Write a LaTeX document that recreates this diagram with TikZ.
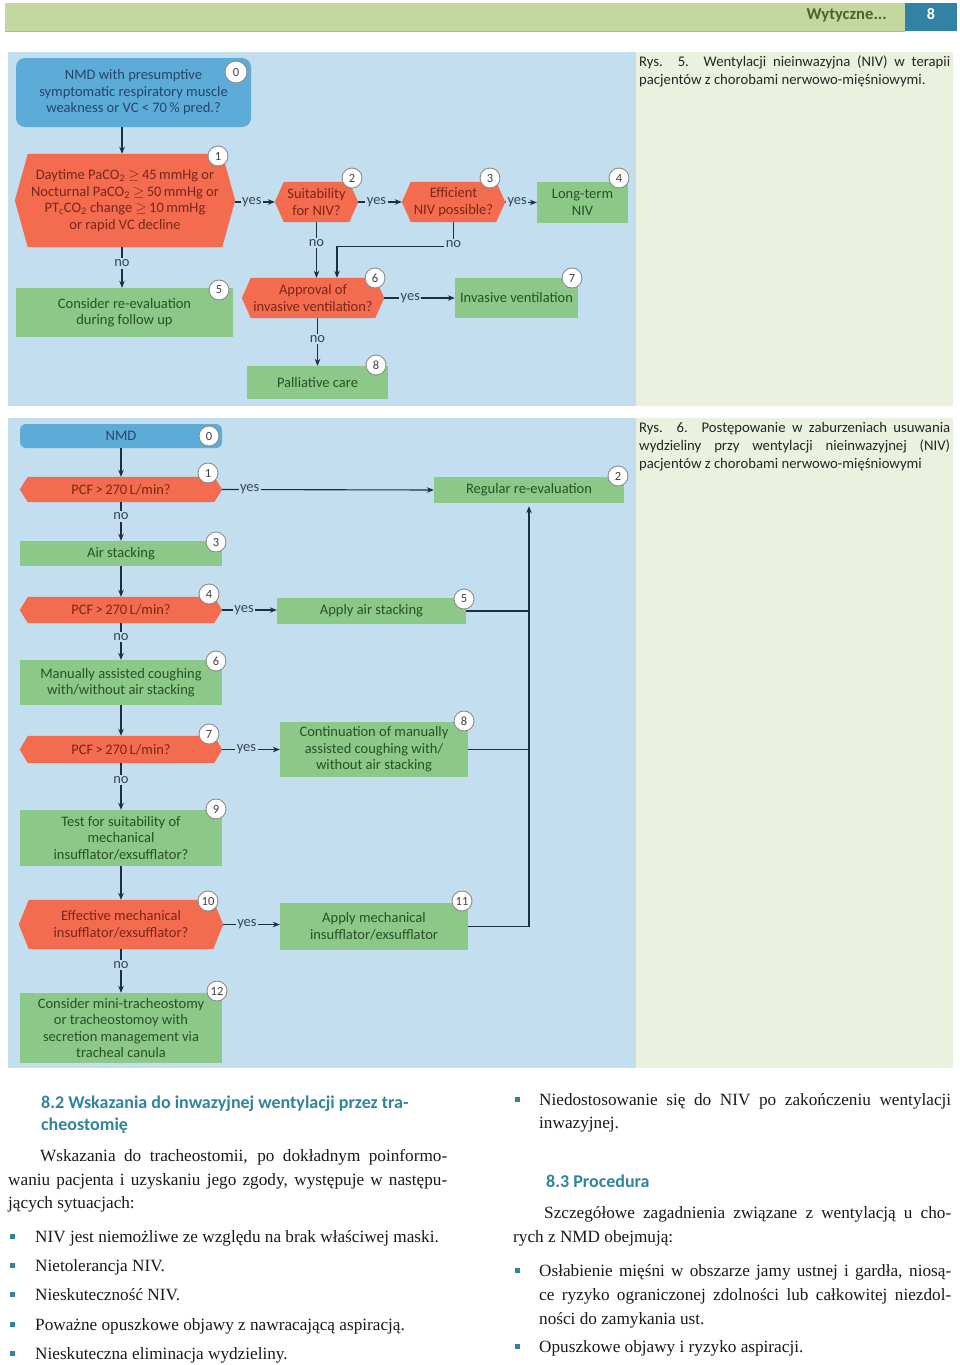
\documentclass[tikz,border=0pt]{standalone}
\usepackage{fontspec}
\setmainfont{Liberation Serif}
\newfontfamily\flowfont{Carlito}
\newfontfamily\capfont{Carlito}
\usetikzlibrary{arrows.meta}
\pgfdeclarelayer{panels}
\pgfdeclarelayer{shapes}
\pgfsetlayers{panels,shapes,main}
\definecolor{panelblue}{RGB}{195,222,238}
\definecolor{capgreen}{RGB}{234,241,222}
\definecolor{hdrgreen}{RGB}{196,215,159}
\definecolor{hdrblue}{RGB}{49,130,163}
\definecolor{hdrtext}{RGB}{79,98,40}
\definecolor{nodeblue}{RGB}{92,172,215}
\definecolor{nodered}{RGB}{243,108,80}
\definecolor{nodegreen}{RGB}{140,200,136}
\definecolor{txtred}{RGB}{122,38,24}
\definecolor{txtgreen}{RGB}{40,82,40}
\definecolor{txtblue}{RGB}{35,70,110}
\definecolor{arrowc}{RGB}{30,45,70}
\definecolor{lblc}{RGB}{55,70,90}
\definecolor{tealc}{RGB}{49,132,155}
\tikzset{
  ft/.style={font=\flowfont\fontsize{14.5}{16.5}\selectfont, align=center, inner sep=0pt},
  gbox/.style={ft, rectangle, fill=nodegreen, text=txtgreen},
  bbox/.style={ft, rectangle, rounded corners=7pt, fill=nodeblue, text=txtblue},
  hbox/.style={ft, rectangle, text=txtred},
  badge/.style={circle, fill=white, draw=black!45, line width=0.9pt, minimum size=20pt, inner sep=0pt, font=\flowfont\fontsize{12.5}{12.5}\selectfont, text=black!75},
  arr/.style={draw=arrowc, line width=1.1pt, -{Stealth[length=7pt,width=5.5pt]}},
  plainln/.style={draw=arrowc, line width=1.1pt},
  lbl/.style={ft, fill=panelblue, inner sep=1.5pt, text=lblc},
  captxt/.style={anchor=base west, inner sep=0pt, font=\capfont\fontsize{14.7}{18}\selectfont, text=black!85},
  bodytxt/.style={anchor=base west, inner sep=0pt, font=\fontsize{17.2}{20}\selectfont, text=black!90},
  headtxt/.style={anchor=base west, inner sep=0pt, font=\capfont\bfseries\fontsize{18}{22}\selectfont, text=tealc},
  bsq/.style={rectangle, fill=tealc, minimum size=5pt, inner sep=0pt},
}
\newcommand\hexfill[2]{%
  \begin{pgfonlayer}{shapes}
  \fill[nodered] (#1.west) -- ([xshift=#2]#1.north west) -- ([xshift=-#2]#1.north east) -- (#1.east) -- ([xshift=-#2]#1.south east) -- ([xshift=#2]#1.south west) -- cycle;
  \end{pgfonlayer}}
\newcommand\jl[2]{\makebox[#1][s]{#2}}
\begin{document}
\begin{tikzpicture}[x=1pt,y=-1pt]
\useasboundingbox (0,0) rectangle (960,1365);
% panels
\begin{pgfonlayer}{panels}
\fill[white] (0,0) rectangle (960,1365);
\fill[panelblue] (8,52) rectangle (636,406);
\fill[capgreen] (636,52) rectangle (953,406);
\fill[panelblue] (8,418) rectangle (636,1068);
\fill[capgreen] (636,418) rectangle (953,1068);
\end{pgfonlayer}
% header
\fill[hdrgreen] (5,3) rectangle (905,31);
\fill[hdrblue] (905,3) rectangle (957,31);
\draw[black!30, line width=1.2pt] (5,31.6) -- (905,31.6);
\node[anchor=east, inner sep=0pt, font=\capfont\bfseries\fontsize{16.6}{18}\selectfont, text=hdrtext] (hdr) at (887,15) {Wytyczne...};
\node[inner sep=0pt, font=\capfont\bfseries\fontsize{16}{18}\selectfont, text=white] (pg) at (931,14) {8};
% captions
\node[captxt] (c5a) at (639,66) {\jl{311pt}{Rys. 5. Wentylacji nieinwazyjna (NIV) w terapii}};
\node[captxt] (c5b) at (639,84) {pacjentów z chorobami nerwowo-mięśniowymi.};
\node[captxt] (c6a) at (639,432) {\jl{311pt}{Rys. 6. Postępowanie w zaburzeniach usuwania}};
\node[captxt] (c6b) at (639,450) {\jl{311pt}{wydzieliny przy wentylacji nieinwazyjnej (NIV)}};
\node[captxt] (c6c) at (639,468) {pacjentów z chorobami nerwowo-mięśniowymi};

% ================= FIGURE 1 =================
\coordinate (f1ax) at (122,0);
\node[bbox, rounded corners=9pt, minimum width=235pt, minimum height=69pt] (f1n0) at (133.5,92.5) {NMD with presumptive\\symptomatic respiratory muscle\\weakness or VC < 70\,\% pred.?};
\node[hbox, minimum width=220pt, minimum height=93pt] (f1n1) at (125,200.5) {Daytime PaCO\textsubscript{2} \ensuremath{\geq}\,45\,mmHg or\\Nocturnal PaCO\textsubscript{2} \ensuremath{\geq}\,50\,mmHg or\\PT\textsubscript{c}CO\textsubscript{2} change \ensuremath{\geq}\,10\,mmHg\\or rapid VC decline};
\hexfill{f1n1}{13pt}
\node[hbox, minimum width=83pt, minimum height=40pt] (f1n2) at (316.5,202) {Suitability\\for NIV?};
\hexfill{f1n2}{9pt}
\node[hbox, minimum width=103pt, minimum height=40pt] (f1n3) at (453.5,202) {Efficient\\NIV possible?};
\hexfill{f1n3}{9pt}
\node[gbox, minimum width=91pt, minimum height=41pt] (f1n4) at (582.5,202.5) {Long-term\\NIV};
\node[gbox, minimum width=217pt, minimum height=49pt] (f1n5) at (124.5,312.5) {Consider re-evaluation\\during follow up};
\node[hbox, minimum width=142pt, minimum height=40pt] (f1n6) at (313,298) {Approval of\\invasive ventilation?};
\hexfill{f1n6}{9pt}
\node[gbox, minimum width=123pt, minimum height=40pt] (f1n7) at (516.5,298) {Invasive ventilation};
\node[gbox, minimum width=141pt, minimum height=33pt] (f1n8) at (317.5,382.5) {Palliative care};
% connectors fig 1
\draw[arr] (f1n0.south -| f1ax) -- (f1n1.north -| f1ax);
\draw[arr] (f1n1.east |- f1n2.west) -- node[lbl, pos=0.42] {yes} (f1n2.west);
\draw[arr] (f1n2.east) -- node[lbl, pos=0.42] {yes} (f1n3.west);
\draw[arr] (f1n3.east) -- node[lbl, pos=0.38] {yes} (f1n4.west);
\draw[arr] (f1n1.south -| f1ax) -- node[lbl, pos=0.4] {no} (f1n5.north -| f1ax);
\draw[arr] (f1n2.south) -- node[lbl, pos=0.37] {no} (f1n2.south |- f1n6.north);
\draw[arr] (f1n3.south) -- ++(0,24) coordinate (f1k) -| ([xshift=24pt]f1n6.north);
\node[lbl] (f1no3) at ([yshift=2pt]f1k) {no};
\draw[arr] (f1n6.east) -- node[lbl, pos=0.37] {yes} (f1n7.west);
\draw[arr] (f1n8.north |- f1n6.south) -- node[lbl, pos=0.43] {no} (f1n8.north);
% badges fig 1
\node[badge, minimum size=22pt] (f1b0) at (236,72) {0};
\node[badge] (f1b1) at (218,156) {1};
\node[badge] (f1b2) at (352,178) {2};
\node[badge] (f1b3) at (490,178) {3};
\node[badge] (f1b4) at (619,178) {4};
\node[badge] (f1b5) at (219,290) {5};
\node[badge] (f1b6) at (375,278) {6};
\node[badge] (f1b7) at (572,278) {7};
\node[badge] (f1b8) at (376,365) {8};

% ================= FIGURE 2 =================
\node[bbox, rounded corners=6pt, minimum width=202pt, minimum height=24pt] (f2n0) at (121,436) {NMD};
\node[hbox, minimum width=202pt, minimum height=25pt] (f2n1) at (121,489.5) {PCF\,>\,270\,L/min?};
\hexfill{f2n1}{8pt}
\node[gbox, minimum width=190pt, minimum height=26pt] (f2n2) at (529,490) {Regular re-evaluation};
\node[gbox, minimum width=202pt, minimum height=25pt] (f2n3) at (121,553.5) {Air stacking};
\node[hbox, minimum width=202pt, minimum height=26pt] (f2n4) at (121,610) {PCF\,>\,270\,L/min?};
\hexfill{f2n4}{8pt}
\node[gbox, minimum width=189pt, minimum height=26pt] (f2n5) at (371.5,611) {Apply air stacking};
\node[gbox, minimum width=202pt, minimum height=45pt] (f2n6) at (121,682.5) {Manually assisted coughing\\with/without air stacking};
\node[hbox, minimum width=202pt, minimum height=27pt] (f2n7) at (121,749.5) {PCF\,>\,270\,L/min?};
\hexfill{f2n7}{8pt}
\node[gbox, minimum width=188pt, minimum height=55pt] (f2n8) at (374,749.5) {Continuation of manually\\assisted coughing with/\\without air stacking};
\node[gbox, minimum width=202pt, minimum height=56pt] (f2n9) at (121,838) {Test for suitability of\\mechanical\\insufflator/exsufflator?};
\node[hbox, minimum width=204pt, minimum height=49pt] (f2n10) at (121,924.5) {Effective mechanical\\insufflator/exsufflator?};
\hexfill{f2n10}{10pt}
\node[gbox, minimum width=188pt, minimum height=47pt] (f2n11) at (374,926.5) {Apply mechanical\\insufflator/exsufflator};
\node[gbox, minimum width=202pt, minimum height=70pt] (f2n12) at (121,1028) {Consider mini-tracheostomy\\or tracheostomoy with\\secretion management via\\tracheal canula};
% connectors fig 2
\draw[arr] (f2n0.south) -- (f2n1.north);
\draw[arr] (f2n1.east) -- node[lbl, pos=0.13] {yes} (f2n2.west);
\draw[arr] (f2n1.south) -- node[lbl, pos=0.37] {no} (f2n3.north);
\draw[arr] (f2n3.south) -- (f2n4.north);
\draw[arr] (f2n4.east) -- node[lbl, pos=0.4] {yes} (f2n4.east -| f2n5.west);
\draw[arr] (f2n4.south) -- node[lbl, pos=0.38] {no} (f2n6.north);
\draw[arr] (f2n6.south) -- (f2n7.north);
\draw[arr] (f2n7.east) -- node[lbl, pos=0.42] {yes} (f2n8.west);
\draw[arr] (f2n7.south) -- node[lbl, pos=0.36] {no} (f2n9.north);
\draw[arr] (f2n9.south) -- (f2n10.north);
\draw[arr] (f2n10.east) -- node[lbl, pos=0.42] {yes} (f2n10.east -| f2n11.west);
\draw[arr] (f2n10.south) -- node[lbl, pos=0.36] {no} (f2n12.north);
\draw[plainln] (f2n5.east) -- (f2n5.east -| f2n2.south);
\draw[plainln] (f2n8.east) -- (f2n8.east -| f2n2.south);
\draw[arr] (f2n11.east) -| ([yshift=-3pt]f2n2.south);
% badges fig 2
\node[badge] (f2b0) at (209,436) {0};
\node[badge] (f2b1) at (208,473) {1};
\node[badge] (f2b2) at (618,476) {2};
\node[badge] (f2b3) at (216,542) {3};
\node[badge] (f2b4) at (209,594) {4};
\node[badge] (f2b5) at (464,599) {5};
\node[badge] (f2b6) at (216,661) {6};
\node[badge] (f2b7) at (209,734) {7};
\node[badge] (f2b8) at (464,721) {8};
\node[badge] (f2b9) at (216,809) {9};
\node[badge] (f2b10) at (208,901) {10};
\node[badge] (f2b11) at (462,901) {11};
\node[badge] (f2b12) at (217,991) {12};

% ================= TEXT =================
\node[headtxt] (h82a) at (41,1108) {8.2 Wskazania do inwazyjnej wentylacji przez tra-};
\node[headtxt] (h82b) at (41,1130) {cheostomię};
\node[bodytxt] (p1a) at (40,1161) {\jl{407pt}{Wskazania do tracheostomii, po dokładnym poinformo-}};
\node[bodytxt] (p1b) at (8,1185) {\jl{439pt}{waniu pacjenta i uzyskaniu jego zgody, występuje w następu-}};
\node[bodytxt] (p1c) at (8,1208) {jących sytuacjach:};
\node[bsq] (q1) at (12.5,1236.5) {};
\node[bodytxt] (l1) at (35,1242) {NIV jest niemożliwe ze względu na brak właściwej maski.};
\node[bsq] (q2) at (12.5,1265.5) {};
\node[bodytxt] (l2) at (35,1271) {Nietolerancja NIV.};
\node[bsq] (q3) at (12.5,1294.5) {};
\node[bodytxt] (l3) at (35,1300) {Nieskuteczność NIV.};
\node[bsq] (q4) at (12.5,1324.5) {};
\node[bodytxt] (l4) at (35,1330) {Poważne opuszkowe objawy z nawracającą aspiracją.};
\node[bsq] (q5) at (12.5,1353.5) {};
\node[bodytxt] (l5) at (35,1359) {Nieskuteczna eliminacja wydzieliny.};

\node[bsq] (q6) at (517.5,1099.5) {};
\node[bodytxt] (r1a) at (539,1105) {\jl{412pt}{Niedostosowanie się do NIV po zakończeniu wentylacji}};
\node[bodytxt] (r1b) at (539,1128) {inwazyjnej.};
\node[headtxt] (h83) at (546,1187) {8.3 Procedura};
\node[bodytxt] (r2a) at (544,1218) {\jl{407pt}{Szczegółowe zagadnienia związane z wentylacją u cho-}};
\node[bodytxt] (r2b) at (513,1242) {rych z NMD obejmują:};
\node[bsq] (q7) at (517.5,1270.5) {};
\node[bodytxt] (r3a) at (539,1276) {\jl{412pt}{Osłabienie mięśni w obszarze jamy ustnej i gardła, niosą-}};
\node[bodytxt] (r3b) at (539,1300) {\jl{412pt}{ce ryzyko ograniczonej zdolności lub całkowitej niezdol-}};
\node[bodytxt] (r3c) at (539,1324) {ności do zamykania ust.};
\node[bsq] (q8) at (517.5,1346.5) {};
\node[bodytxt] (r4) at (539,1352) {Opuszkowe objawy i ryzyko aspiracji.};
\end{tikzpicture}
\end{document}
